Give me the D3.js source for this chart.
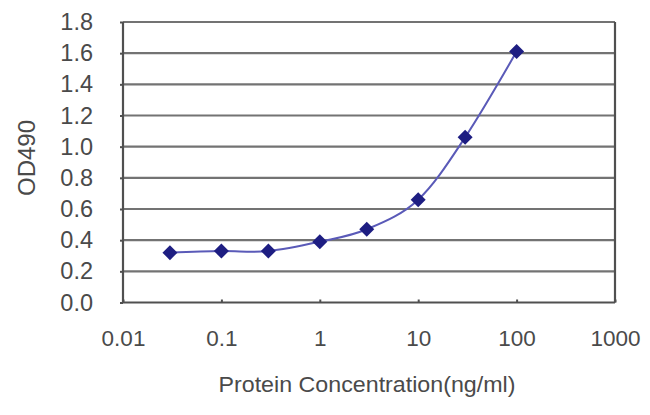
<!DOCTYPE html>
<html><head><meta charset="utf-8">
<script src="https://cdn.jsdelivr.net/npm/d3@7"></script>
<style>body{margin:0;background:#fff}svg{display:block}</style>
</head><body>
<svg id="c" width="650" height="415"></svg>
<script>
const concentrations = [0.03, 0.1, 0.3, 1, 3, 10, 30, 100];
const od490 = [0.32, 0.33, 0.33, 0.39, 0.47, 0.66, 1.06, 1.61];
const xTicks = [0.01, 0.1, 1, 10, 100, 1000];
const xTickLabels = ["0.01", "0.1", "1", "10", "100", "1000"];
const yTicks = [0, 0.2, 0.4, 0.6, 0.8, 1.0, 1.2, 1.4, 1.6, 1.8];
const xTitle = "Protein Concentration(ng/ml)";
const yTitle = "OD490";

const svg = d3.select("#c");
const L = 123, R = 615, T = 22, B = 302.5;
const x = d3.scaleLog().domain([0.01, 1000]).range([L, R]);
const y = d3.scaleLinear().domain([0, 1.8]).range([B, T]);
const font = "'Liberation Sans', Arial, sans-serif";
const gridCol = "#737373";
const textCol = "#4a4a4a";

// gridlines
svg.append("g").selectAll("line").data(yTicks.filter(d => d > 0)).join("line")
  .attr("x1", L).attr("x2", R).attr("y1", d => y(d)).attr("y2", d => y(d))
  .attr("stroke", gridCol).attr("stroke-width", 2.2);

// y axis
const yAxis = svg.append("g").attr("transform", `translate(${L},0)`)
  .call(d3.axisLeft(y).tickValues(yTicks).tickFormat(d3.format(".1f")).tickSize(3).tickPadding(27));
yAxis.select(".domain").attr("stroke", "#505050").attr("stroke-width", 2.2).attr("d", `M0,${B}V${T}`);
yAxis.selectAll(".tick line").attr("stroke", "#505050").attr("stroke-width", 2);
yAxis.selectAll("text").attr("font-family", font).attr("font-size", 23.5).attr("fill", textCol);

// right border
svg.append("line").attr("x1", R).attr("x2", R).attr("y1", T).attr("y2", B)
  .attr("stroke", "#505050").attr("stroke-width", 2.2);

// x axis
const xAxis = svg.append("g").attr("transform", `translate(0,${B})`)
  .call(d3.axisBottom(x).tickValues(xTicks).tickFormat((d, i) => xTickLabels[i]).tickSize(-3).tickPadding(28));
xAxis.select(".domain").attr("stroke", "#505050").attr("stroke-width", 2.2).attr("d", `M${L},0H${R}`);
xAxis.selectAll(".tick line").attr("stroke", "#505050").attr("stroke-width", 2);
xAxis.selectAll("text").attr("font-family", font).attr("font-size", 22.5).attr("fill", textCol);

// titles
svg.append("text").attr("x", 367).attr("y", 392).attr("text-anchor", "middle")
  .attr("font-family", font).attr("font-size", 21.5).attr("fill", textCol)
  .attr("textLength", 297).attr("lengthAdjust", "spacingAndGlyphs").text(xTitle);
svg.append("text").attr("transform", "translate(35,158) rotate(-90)").attr("text-anchor", "middle")
  .attr("font-family", font).attr("font-size", 24).attr("fill", textCol).text(yTitle);

// line
const pts = concentrations.map((c, i) => [c, od490[i]]);
svg.append("path").datum(pts)
  .attr("d", d3.line().x(d => x(d[0])).y(d => y(d[1])).curve(d3.curveCatmullRom.alpha(0)))
  .attr("fill", "none").attr("stroke", "#5a5ab8").attr("stroke-width", 2);

// markers
svg.append("g").selectAll("path").data(pts).join("path")
  .attr("transform", d => `translate(${x(d[0])},${y(d[1])})`)
  .attr("d", "M0,-7.5L7.5,0L0,7.5L-7.5,0Z").attr("fill", "#1e1e82");
</script>
</body></html>
